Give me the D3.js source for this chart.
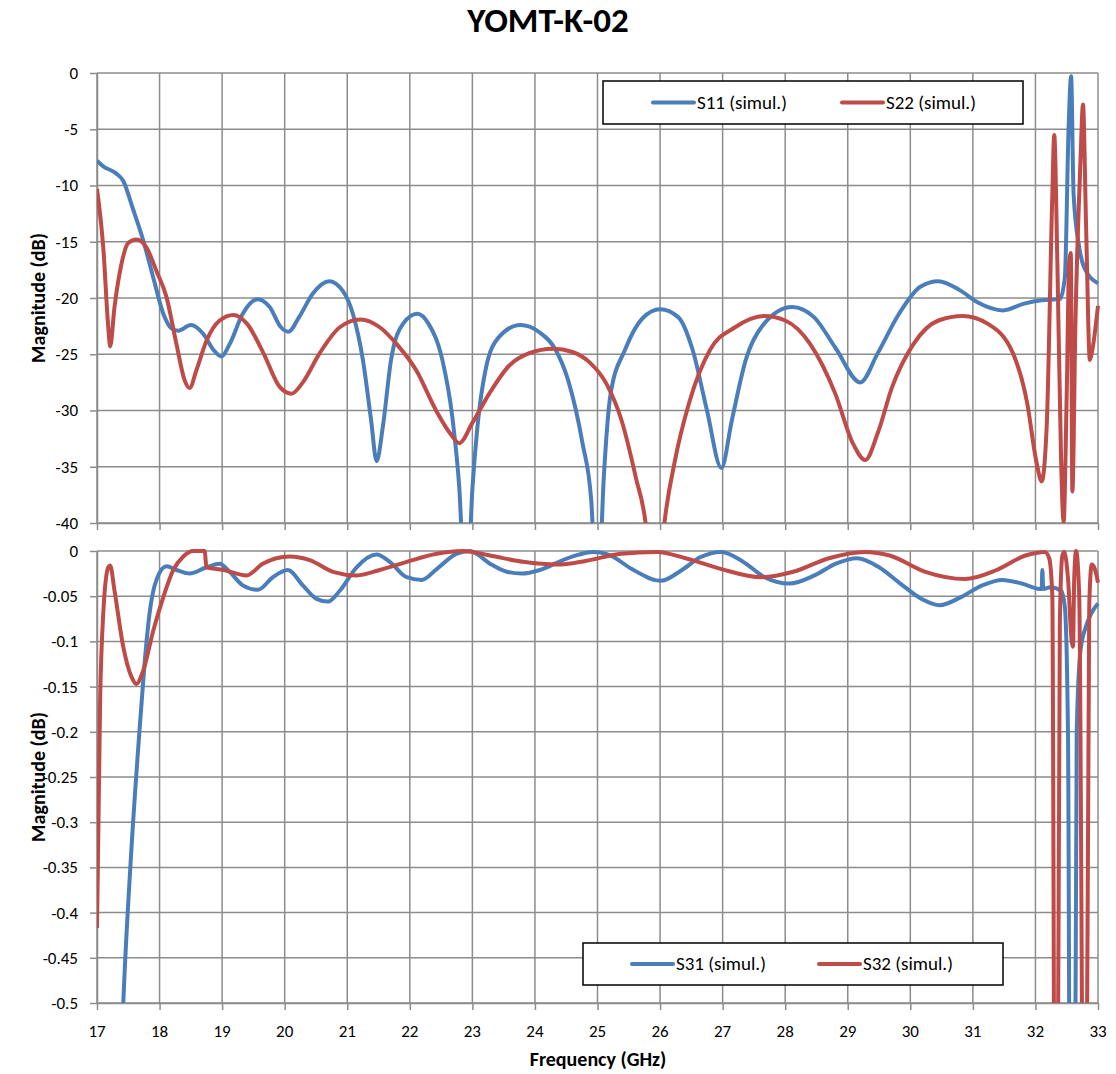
<!DOCTYPE html>
<html>
<head>
  <title>YOMT-K-02</title>
  <script src="https://d3js.org/d3.v7.min.js"></script>
  <style>
    body { margin: 0; background: #fff; }
    text { font-family: Carlito, Lato, "Noto Sans", sans-serif; }
  </style>
</head>
<body>
  <svg width="1116" height="1074" id="mainsvg"></svg>
  <script>
    // frequency ticks and magnitude ticks
    const freqTicks = d3.range(17, 34, 1);
    const topTicks = [0, -5, -10, -15, -20, -25, -30, -35, -40];
    const botTicks = [0, -0.05, -0.1, -0.15, -0.2, -0.25, -0.3, -0.35, -0.4, -0.45, -0.5];

    // [GHz, dB]
    const s11 = [[17.0,-7.8],[17.1,-8.3],[17.3,-8.9],[17.42,-9.6],[17.57,-12],[17.74,-14.9],[17.9,-18.2],
      [18.06,-21.4],[18.19,-22.7],[18.3,-22.9],[18.5,-22.4],[18.7,-23.2],[18.86,-24.6],[18.99,-25.2],
      [19.12,-24.1],[19.33,-21.4],[19.57,-20.1],[19.76,-20.8],[19.94,-22.6],[20.06,-23.0],[20.23,-21.7],
      [20.45,-19.6],[20.71,-18.5],[20.92,-19.3],[21.09,-21.4],[21.25,-25.5],[21.38,-30.8],[21.47,-34.5],
      [21.57,-31.4],[21.7,-25.5],[21.89,-22.3],[22.12,-21.4],[22.3,-22.3],[22.52,-25.5],[22.68,-30.6],
      [22.79,-36.8],[22.9,-48],[23.0,-37],[23.08,-31.5],[23.21,-26.4],[23.42,-23.5],[23.77,-22.4],[24.06,-23],
      [24.33,-24.6],[24.53,-27.3],[24.76,-32.9],[24.9,-38],[25.0,-48],[25.1,-36],[25.21,-28.5],[25.44,-24.6],
      [25.72,-21.8],[26.0,-21.0],[26.29,-21.7],[26.52,-24.6],[26.75,-30],[26.98,-35.1],[27.15,-30.8],
      [27.37,-25.5],[27.66,-22.3],[28.11,-20.8],[28.46,-21.7],[28.8,-24.4],[29.2,-27.5],[29.48,-24.9],
      [29.82,-21.4],[30.16,-19.0],[30.45,-18.5],[30.79,-19.3],[31.08,-20.4],[31.48,-21.1],[31.82,-20.5],
      [32.1,-20.2],[32.39,-20.1],[32.47,-18.2],[32.53,-4.9],[32.57,-0.3],[32.61,-10.8],[32.7,-15.5],
      [32.78,-17.3],[33.0,-18.7]];

    const s22 = [[17.0,-10.3],[17.1,-15.5],[17.18,-22.6],[17.21,-24.3],[17.28,-20.8],[17.39,-17],[17.5,-15.1],
      [17.63,-14.8],[17.79,-15.5],[17.95,-17.6],[18.11,-19.9],[18.27,-24.1],[18.4,-27.3],[18.48,-28.0],
      [18.59,-26.4],[18.75,-23.8],[18.96,-22.0],[19.18,-21.5],[19.4,-22.3],[19.66,-24.9],[19.92,-27.9],
      [20.11,-28.5],[20.29,-27.5],[20.56,-24.9],[20.88,-22.6],[21.21,-21.9],[21.52,-22.6],[21.79,-24.1],
      [22.1,-26.4],[22.42,-30],[22.64,-32],[22.79,-32.9],[23.0,-31.1],[23.27,-28.5],[23.59,-26],[23.91,-24.9],
      [24.29,-24.5],[24.6,-24.8],[24.87,-25.7],[25.15,-27.7],[25.38,-30.8],[25.61,-35.9],[25.78,-40.5],
      [25.92,-50],[26.06,-40.5],[26.24,-34.4],[26.46,-29.4],[26.8,-24.6],[27.2,-22.6],[27.66,-21.6],
      [28.0,-22],[28.4,-24.1],[28.8,-28.5],[29.08,-32.9],[29.28,-34.4],[29.48,-32],[29.71,-27.9],
      [30.05,-24.1],[30.45,-22],[30.84,-21.6],[31.24,-22.3],[31.64,-24.9],[31.87,-29.4],[32.01,-34.4],
      [32.1,-36.3],[32.18,-31.4],[32.27,-10.8],[32.3,-5.5],[32.35,-16.7],[32.41,-34.4],[32.45,-39.9],
      [32.5,-28.5],[32.54,-16.7],[32.565,-16],[32.59,-37.2],[32.64,-22],[32.72,-7.8],[32.76,-2.8],
      [32.81,-13.7],[32.87,-25.5],[32.9,-24.9],[33.0,-20.7]];

    const s31 = [[17.0,-1.6],[17.3,-0.75],[17.42,-0.5],[17.55,-0.33],[17.68,-0.198],[17.76,-0.125],
      [17.84,-0.069],[17.95,-0.032],[18.11,-0.017],[18.27,-0.021],[18.48,-0.025],[18.75,-0.018],
      [18.96,-0.014],[19.12,-0.023],[19.33,-0.038],[19.57,-0.043],[19.81,-0.029],[20.05,-0.021],
      [20.29,-0.038],[20.51,-0.053],[20.69,-0.056],[20.88,-0.044],[21.15,-0.018],[21.47,-0.004],
      [21.68,-0.012],[21.95,-0.029],[22.19,-0.032],[22.43,-0.02],[22.75,-0.003],[22.96,0],[23.28,-0.014],
      [23.55,-0.023],[23.79,-0.025],[24.08,-0.021],[24.45,-0.01],[24.7,-0.004],[24.93,-0.001],[25.21,-0.005],
      [25.55,-0.02],[26.01,-0.033],[26.35,-0.021],[26.64,-0.007],[26.98,-0.001],[27.33,-0.012],[27.67,-0.029],
      [28.07,-0.036],[28.47,-0.027],[28.81,-0.014],[29.15,-0.008],[29.5,-0.018],[29.84,-0.036],[30.18,-0.053],
      [30.47,-0.06],[30.81,-0.051],[31.15,-0.038],[31.47,-0.032],[31.78,-0.036],[32.07,-0.042],[32.1,-0.042],
      [32.11,-0.021],[32.125,-0.042],[32.24,-0.04],[32.41,-0.044],[32.47,-0.062],[32.52,-0.2],[32.56,-0.8],
      [32.62,-0.8],[32.66,-0.2],[32.72,-0.11],[32.8,-0.085],[32.9,-0.068],[33.0,-0.058]];

    const s32 = [[17.0,-0.417],[17.05,-0.165],[17.1,-0.069],[17.18,-0.018],[17.21,-0.016],[17.28,-0.044],
      [17.42,-0.106],[17.55,-0.139],[17.63,-0.147],[17.74,-0.132],[17.9,-0.088],[18.06,-0.051],[18.22,-0.021],
      [18.38,-0.006],[18.54,0],[18.72,0],[18.75,-0.018],[19.02,-0.021],[19.39,-0.027],[19.65,-0.014],
      [20.08,-0.006],[20.4,-0.01],[20.77,-0.023],[21.15,-0.027],[21.52,-0.021],[21.95,-0.012],[22.43,-0.003],
      [22.85,0],[23.28,-0.005],[23.81,-0.012],[24.35,-0.015],[24.81,-0.011],[25.38,-0.003],[25.95,-0.001],
      [26.41,-0.008],[26.98,-0.02],[27.61,-0.029],[28.13,-0.023],[28.7,-0.008],[29.27,-0.001],[29.67,-0.005],
      [30.24,-0.023],[30.87,-0.031],[31.38,-0.021],[31.84,-0.005],[32.15,-0.001],[32.22,-0.008],[32.27,-0.05],
      [32.31,-0.7],[32.35,-0.7],[32.39,-0.08],[32.43,-0.005],[32.46,-0.001],[32.52,-0.03],[32.58,-0.1],
      [32.6,-0.106],[32.62,-0.03],[32.65,0],[32.7,-0.05],[32.77,-0.7],[32.81,-0.7],[32.86,-0.06],
      [32.9,-0.015],[32.95,-0.02],[33.0,-0.035]];

    const blue = '#4a7ebb', red = '#be4b48', gridColor = '#8c8c8c';

    const svg = d3.select('#mainsvg');
    const left = 97, right = 1098;

    const xScale = d3.scaleLinear().domain([17, 33]).range([left, right]);
    const yTop = d3.scaleLinear().domain([-40, 0]).range([523, 73]);
    const yBot = d3.scaleLinear().domain([-0.5, 0]).range([1003, 551]);

    svg.append('text')
      .attr('x', 548).attr('y', 32)
      .attr('text-anchor', 'middle')
      .attr('font-size', 35).attr('font-weight', 'bold')
      .text('YOMT-K-02');

    const drawPanel = function (yScale, ticks, fmt, series, id, legend) {
      const g = svg.append('g');
      // grid
      g.append('g').selectAll('line').data(ticks).join('line')
        .attr('x1', left).attr('x2', right)
        .attr('y1', d => yScale(d)).attr('y2', d => yScale(d))
        .attr('stroke', gridColor).attr('stroke-width', 1.5);
      g.append('g').selectAll('line').data(freqTicks).join('line')
        .attr('x1', d => xScale(d)).attr('x2', d => xScale(d))
        .attr('y1', yScale.range()[1]).attr('y2', yScale.range()[0])
        .attr('stroke', gridColor).attr('stroke-width', 1.5);

      const yAxis = d3.axisLeft(yScale).tickValues(ticks).tickFormat(fmt)
        .tickSizeInner(7).tickSizeOuter(0).tickPadding(12);
      const ya = g.append('g').attr('transform', `translate(${left},0)`).call(yAxis);
      const xAxis = d3.axisBottom(xScale).tickValues(freqTicks).tickFormat('')
        .tickSizeInner(7).tickSizeOuter(0);
      const xa = g.append('g').attr('transform', `translate(0,${yScale.range()[0]})`).call(xAxis);
      [ya, xa].forEach(a => {
        a.selectAll('path,line').attr('stroke', gridColor).attr('stroke-width', 1.5);
        a.selectAll('text').attr('font-size', 17).attr('fill', '#000')
          .style('font-family', 'Carlito, Lato, "Noto Sans", sans-serif');
      });

      g.append('clipPath').attr('id', id).append('rect')
        .attr('x', left).attr('y', yScale.range()[1] - 2)
        .attr('width', right - left + 2).attr('height', yScale.range()[0] - yScale.range()[1] + 2);

      const line = d3.line().x(d => xScale(d[0])).y(d => yScale(d[1])).curve(d3.curveMonotoneX);
      const lg = g.append('g').attr('clip-path', `url(#${id})`);
      series.forEach(s => {
        lg.append('path').datum(s.data)
          .attr('fill', 'none').attr('stroke', s.color)
          .attr('stroke-width', 4).attr('stroke-linejoin', 'round')
          .attr('d', line);
      });

      // legend
      const lgd = g.append('g');
      lgd.append('rect')
        .attr('x', legend.x).attr('y', legend.y).attr('width', legend.w).attr('height', legend.h)
        .attr('fill', '#fff').attr('stroke', '#000').attr('stroke-width', 1.5);
      series.forEach((s, i) => {
        const lx = legend.x + legend.off[i];
        const ly = legend.y + legend.h / 2;
        lgd.append('line').attr('x1', lx).attr('x2', lx + 41).attr('y1', ly).attr('y2', ly)
          .attr('stroke', s.color).attr('stroke-width', 4).attr('stroke-linecap', 'round');
        lgd.append('text').attr('x', lx + 44).attr('y', ly + 6)
          .attr('font-size', 19).text(s.name);
      });
    };

    const plain = d => String(d);

    drawPanel(yTop, topTicks, plain,
      [{ data: s11, color: blue, name: 'S11 (simul.)' }, { data: s22, color: red, name: 'S22 (simul.)' }],
      'clipTop', { x: 603, y: 81, w: 420, h: 43, off: [50, 239] });

    drawPanel(yBot, botTicks, plain,
      [{ data: s31, color: blue, name: 'S31 (simul.)' }, { data: s32, color: red, name: 'S32 (simul.)' }],
      'clipBot', { x: 583, y: 943, w: 420, h: 42, off: [49, 236] });

    // x tick labels under bottom panel
    svg.append('g').selectAll('text').data(freqTicks).join('text')
      .attr('x', d => xScale(d)).attr('y', 1037)
      .attr('text-anchor', 'middle').attr('font-size', 17)
      .text(d => d);

    svg.append('text')
      .attr('x', 598).attr('y', 1066)
      .attr('text-anchor', 'middle').attr('font-size', 20).attr('font-weight', 'bold')
      .text('Frequency (GHz)');

    [298, 777].forEach(cy => {
      svg.append('text')
        .attr('transform', `translate(45,${cy}) rotate(-90)`)
        .attr('text-anchor', 'middle').attr('font-size', 20).attr('font-weight', 'bold')
        .text('Magnitude (dB)');
    });
  </script>
</body>
</html>
